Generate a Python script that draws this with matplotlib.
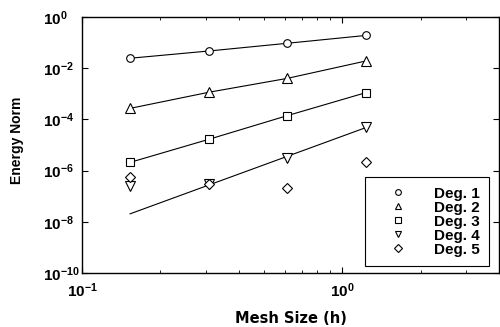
import numpy as np
import matplotlib
matplotlib.use("Agg")
import matplotlib.pyplot as plt
from matplotlib.ticker import LogLocator, NullFormatter, FuncFormatter

h = [0.153, 0.307, 0.614, 1.228]
deg1 = [0.0245, 0.047, 0.094, 0.19]
deg2 = [2.7e-4, 1.15e-3, 4.0e-3, 1.9e-2]
deg3 = [2.1e-6, 1.67e-5, 1.4e-4, 1.1e-3]
deg4 = [2.6e-7, 3.0e-7, 3.0e-6, 5.2e-5]
deg5 = [5.8e-7, 3.0e-7, 2.1e-7, 2.1e-6]
labels = ["Deg. 1", "Deg. 2", "Deg. 3", "Deg. 4", "Deg. 5"]
markers = ["o", "^", "s", "v", "D"]

plt.rcParams['font.family'] = ['Liberation Sans', 'DejaVu Sans']
plt.rcParams['mathtext.fontset'] = 'custom'
plt.rcParams['mathtext.rm'] = 'Liberation Sans'
plt.rcParams['mathtext.bf'] = 'Liberation Sans:bold'
plt.rcParams['mathtext.default'] = 'regular'

fig = plt.figure(figsize=(5.0, 3.27), dpi=100)
ax = fig.add_axes([0.164, 0.165, 0.834, 0.783])

x = np.array(h)
# fitted lines
for ys in (deg1, deg2, deg3):
    ax.plot(x, ys, '-', color='black', lw=0.8, zorder=2)
# Deg 4 line: power-law fit through last three points, extended to smallest h
c = np.polyfit(np.log10(x[1:]), np.log10(np.array(deg4)[1:]), 1)
ax.plot(x, 10 ** np.polyval(c, np.log10(x)), '-', color='black', lw=0.8, zorder=2)

series = [deg1, deg2, deg3, deg4, deg5]
ms = [5.5, 6.5, 5.5, 6.5, 5.0]
for ys, m, lab, s in zip(series, markers, labels, ms):
    ax.plot(x, ys, linestyle='none', marker=m, markersize=s, markerfacecolor='white',
            markeredgecolor='black', markeredgewidth=0.8, label=lab, zorder=3)

ax.set_xscale('log')
ax.set_yscale('log')
ax.set_xlim(0.1, 4.0)
ax.set_ylim(1e-10, 1e0)
ax.yaxis.set_major_locator(LogLocator(base=100.0, numticks=10))
ax.yaxis.set_minor_locator(LogLocator(base=10.0, subs=[], numticks=10))
ax.yaxis.set_minor_formatter(NullFormatter())
ax.xaxis.set_minor_locator(LogLocator(base=10.0, subs=np.arange(2, 10), numticks=10))
ax.xaxis.set_minor_formatter(NullFormatter())

def powfmt(v, pos):
    e = int(round(np.log10(v)))
    return "10$^{%d}$" % e

ax.xaxis.set_major_formatter(FuncFormatter(powfmt))
ax.yaxis.set_major_formatter(FuncFormatter(powfmt))

ax.tick_params(which='both', direction='in', top=True, right=True, labelsize=11)
ax.tick_params(which='major', length=4, width=0.8)
ax.tick_params(which='minor', length=2.5, width=0.6)
ax.tick_params(axis='y', pad=28)
ax.tick_params(axis='x', pad=6)
fig.canvas.draw()
for t in ax.get_yticklabels():
    t.set_horizontalalignment('left')
    t.set_fontweight('bold')
for t in ax.get_xticklabels():
    t.set_fontweight('bold')
for sp in ax.spines.values():
    sp.set_linewidth(1.0)

ax.set_xlabel('Mesh Size (h)', fontsize=10.5, fontweight='bold', labelpad=8,
              family=['DejaVu Sans'])
ax.set_ylabel('Energy Norm', fontsize=10, fontweight='bold', labelpad=15)
ax.yaxis.set_label_coords(-0.14, 0.52)

leg = ax.legend(loc='lower right', bbox_to_anchor=(0.976, 0.027),
                prop={'family': 'Liberation Sans', 'size': 11, 'weight': 'bold'},
                frameon=True, fancybox=False, edgecolor='black', markerscale=0.75,
                handlelength=3.07, handletextpad=0.82, labelspacing=0.0, borderpad=0.62,
                borderaxespad=0)
leg.get_frame().set_linewidth(0.8)
leg.get_frame().set_alpha(1)

fig.savefig('out.png', dpi=100)
